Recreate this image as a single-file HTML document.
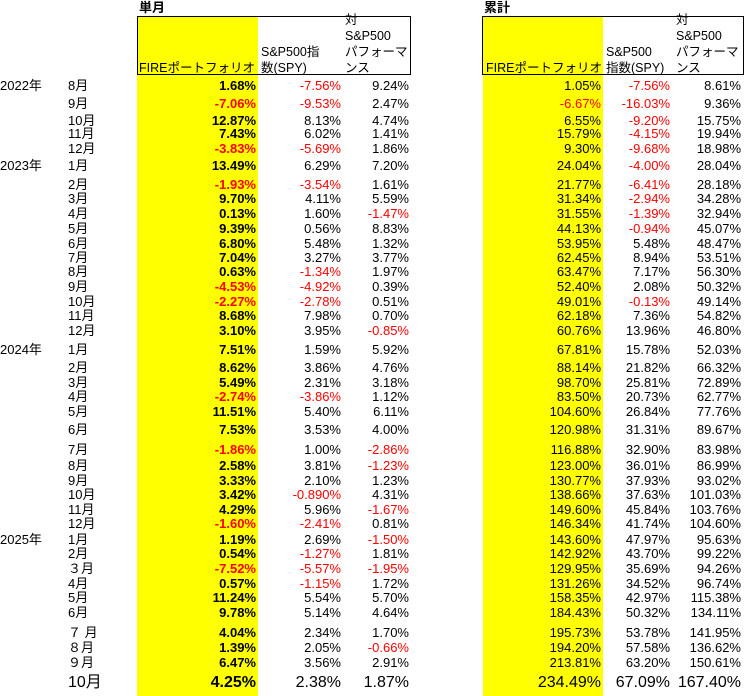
<!DOCTYPE html>
<html><head><meta charset="utf-8">
<style>
body{margin:0;width:745px;height:696px;background:#fff;position:relative;overflow:hidden;font-family:"Liberation Sans","Noto Sans CJK JP",sans-serif;font-size:13px;color:#000}
.a{position:absolute;white-space:nowrap;line-height:14px}
.y{position:absolute;background:#ff0;top:16px;height:680px}
.box{position:absolute;border:1.5px solid #000;top:16px;height:59px;box-sizing:border-box}
.neg{color:#f00}
.b{font-weight:bold}
.h{position:absolute;line-height:16px;font-size:12.5px;white-space:nowrap}
</style></head><body>
<div class="y" style="left:137px;width:121px"></div>
<div class="y" style="left:483px;width:120px"></div>
<div class="box" style="left:137px;width:274px"></div>
<div class="box" style="left:482px;width:262px"></div>
<div class="a b" style="left:139px;top:1px;font-size:13px">単月</div>
<div class="a b" style="left:484px;top:1px;font-size:13px">累計</div>
<div class="h" style="left:139px;top:60px">FIREポートフォリオ</div>
<div class="h" style="left:261px;top:44px">S&amp;P500指<br>数(SPY)</div>
<div class="h" style="left:345px;top:12px">対<br>S&amp;P500<br>パフォーマ<br>ンス</div>
<div class="h" style="left:486px;top:60px">FIREポートフォリオ</div>
<div class="h" style="left:606px;top:44px">S&amp;P500<br>指数(SPY)</div>
<div class="h" style="left:676px;top:12px">対<br>S&amp;P500<br>パフォーマ<br>ンス</div>
<script>
const years=["2022年","","","","","2023年","","","","","","","","","","","","2024年","","","","","","","","","","","","2025年","","","","","","","","",""];
const months=["8月","9月","10月","11月","12月","1月","2月","3月","4月","5月","6月","7月","8月","9月","10月","11月","12月","1月","2月","3月","4月","5月","6月","7月","8月","9月","10月","11月","12月","1月","2月","３月","4月","5月","6月","７ 月","８月","９月","10月"];
const rowY=[86,104,121,134,149,166,185,199,214,229,244,258,272,287,302,316,331,350,368,383,397,412,430,450,466,481,495,510,524,540,554,569,584,598,613,633,648,663,683];
const mFire=["1.68","-7.06","12.87","7.43","-3.83","13.49","-1.93","9.70","0.13","9.39","6.80","7.04","0.63","-4.53","-2.27","8.68","3.10","7.51","8.62","5.49","-2.74","11.51","7.53","-1.86","2.58","3.33","3.42","4.29","-1.60","1.19","0.54","-7.52","0.57","11.24","9.78","4.04","1.39","6.47","4.25"];
const mSpy=["-7.56","-9.53","8.13","6.02","-5.69","6.29","-3.54","4.11","1.60","0.56","5.48","3.27","-1.34","-4.92","-2.78","7.98","3.95","1.59","3.86","2.31","-3.86","5.40","3.53","1.00","3.81","2.10","-0.890","5.96","-2.41","2.69","-1.27","-5.57","-1.15","5.54","5.14","2.34","2.05","3.56","2.38"];
const mVs=["9.24","2.47","4.74","1.41","1.86","7.20","1.61","5.59","-1.47","8.83","1.32","3.77","1.97","0.39","0.51","0.70","-0.85","5.92","4.76","3.18","1.12","6.11","4.00","-2.86","-1.23","1.23","4.31","-1.67","0.81","-1.50","1.81","-1.95","1.72","5.70","4.64","1.70","-0.66","2.91","1.87"];
const cFire=["1.05","-6.67","6.55","15.79","9.30","24.04","21.77","31.34","31.55","44.13","53.95","62.45","63.47","52.40","49.01","62.18","60.76","67.81","88.14","98.70","83.50","104.60","120.98","116.88","123.00","130.77","138.66","149.60","146.34","143.60","142.92","129.95","131.26","158.35","184.43","195.73","194.20","213.81","234.49"];
const cSpy=["-7.56","-16.03","-9.20","-4.15","-9.68","-4.00","-6.41","-2.94","-1.39","-0.94","5.48","8.94","7.17","2.08","-0.13","7.36","13.96","15.78","21.82","25.81","20.73","26.84","31.31","32.90","36.01","37.93","37.63","45.84","41.74","47.97","43.70","35.69","34.52","42.97","50.32","53.78","57.58","63.20","67.09"];
const cVs=["8.61","9.36","15.75","19.94","18.98","28.04","28.18","34.28","32.94","45.07","48.47","53.51","56.30","50.32","49.14","54.82","46.80","52.03","66.32","72.89","62.77","77.76","89.67","83.98","86.99","93.02","101.03","103.76","104.60","95.63","99.22","94.26","96.74","115.38","134.11","141.95","136.62","150.61","167.40"];
function cell(txt,x,right,y,cls,big,name){
  const d=document.createElement('div');
  
  
  d.className='a '+cls;
  d.textContent=txt;
  d.style.top=(y-7)+'px';
  if(big){d.style.fontSize='16px';d.style.top=(y-8)+'px';d.style.lineHeight='16px';}
  if(right){d.style.right=(745-x)+'px';}else{d.style.left=x+'px';}
  document.body.appendChild(d);
}
const cols=[[mFire,256,true,'monthly-fire-value'],[mSpy,341,false,'monthly-spy-value'],[mVs,409,false,'monthly-vs-spy-value'],[cFire,601,false,'cumulative-fire-value'],[cSpy,670,false,'cumulative-spy-value'],[cVs,741,false,'cumulative-vs-spy-value']];
for(let i=0;i<months.length;i++){
  const y=rowY[i];const big=i===months.length-1;
  if(years[i])cell(years[i],0,false,y,'',false,'year-label');
  cell(months[i],68,false,y,'',big,'month-label');
  cols.forEach(([arr,x,bold,nm])=>{
    const v=arr[i];
    cell(v+'%',x,true,y,(v.startsWith('-')?'neg ':'')+(bold?'b':''),big,nm);
  });
}
</script>
</body></html>
